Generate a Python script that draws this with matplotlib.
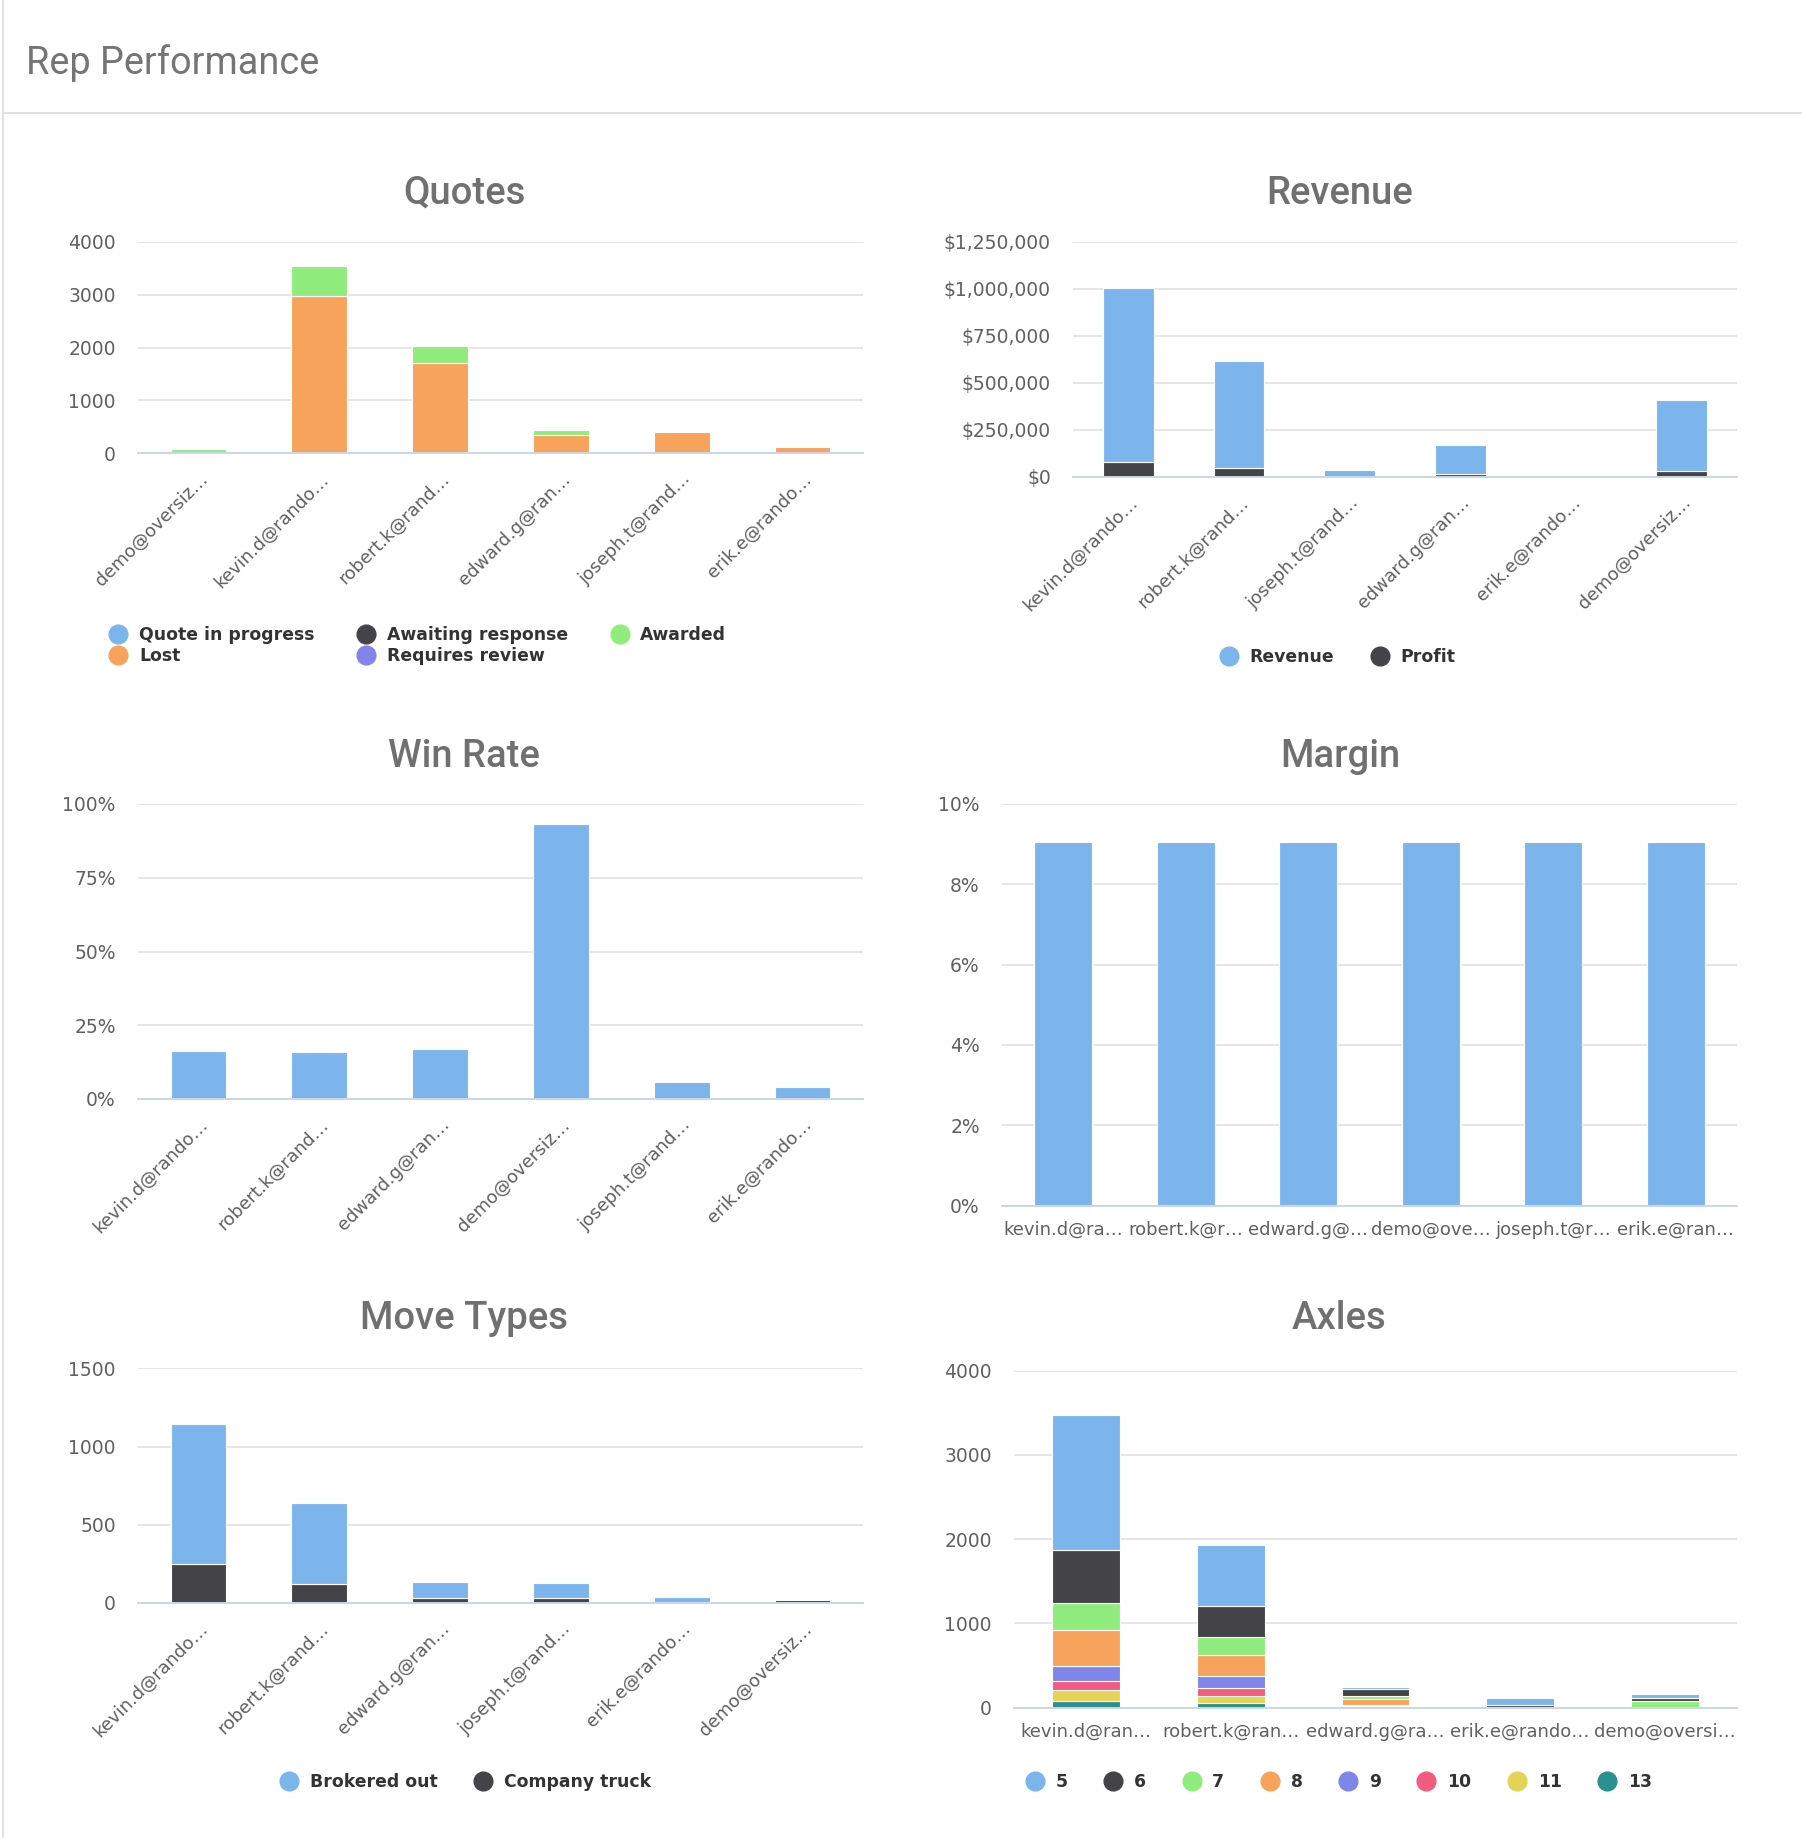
import matplotlib
matplotlib.use("Agg")
import matplotlib.pyplot as plt
from matplotlib.lines import Line2D
import numpy as np

W, H = 1802, 1838

# colours (highcharts palette)
BLUE, DARK, GREEN, ORANGE = '#7cb5ec', '#434348', '#90ed7d', '#f7a35c'
PURPLE, RED, YELLOW, TEAL = '#8085e9', '#f15c80', '#e4d354', '#2b908f'

# ---------------- data ----------------
quotes_reps = ['demo@oversiz…', 'kevin.d@rando…', 'robert.k@rand…',
               'edward.g@ran…', 'joseph.t@rand…', 'erik.e@rando…']
quotes_in_progress = [0, 0, 0, 0, 0, 0]
quotes_awaiting = [0, 0, 0, 0, 0, 0]
quotes_awarded = [80, 560, 320, 95, 0, 0]
quotes_lost = [0, 2980, 1700, 346, 408, 110]
quotes_review = [0, 0, 0, 0, 0, 0]

revenue_reps = ['kevin.d@rando…', 'robert.k@rand…', 'joseph.t@rand…',
                'edward.g@ran…', 'erik.e@rando…', 'demo@oversiz…']
revenue = [922000, 567000, 35600, 156000, 0, 376000]
profit = [80000, 48000, 0, 12700, 0, 30000]

winrate_reps = ['kevin.d@rando…', 'robert.k@rand…', 'edward.g@ran…',
                'demo@oversiz…', 'joseph.t@rand…', 'erik.e@rando…']
winrate = [16.3, 15.8, 16.9, 93.2, 5.8, 4.2]

margin_reps = ['kevin.d@ra…', 'robert.k@r…', 'edward.g@…',
               'demo@ove…', 'joseph.t@r…', 'erik.e@ran…']
margin = [9.05, 9.05, 9.05, 9.05, 9.05, 9.05]

move_reps = ['kevin.d@rando…', 'robert.k@rand…', 'edward.g@ran…',
             'joseph.t@rand…', 'erik.e@rando…', 'demo@oversiz…']
brokered_out = [897, 522, 106, 96, 31, 0]
company_truck = [249, 119, 30, 30, 5, 18]

axles_reps = ['kevin.d@ran…', 'robert.k@ran…', 'edward.g@ra…',
              'erik.e@rando…', 'demo@oversi…']
axle_names = ['5', '6', '7', '8', '9', '10', '11', '13']
axles_5 = [1601, 724, 30, 85, 48]
axles_6 = [633, 368, 85, 28, 28]
axles_7 = [320, 225, 35, 0, 82]
axles_8 = [431, 246, 70, 8, 0]
axles_9 = [174, 146, 5, 0, 0]
axles_10 = [107, 91, 5, 0, 0]
axles_11 = [134, 78, 15, 0, 0]
axles_13 = [75, 59, 5, 0, 0]

# ---------------- figure ----------------
plt.rcParams['font.family'] = ['DejaVu Sans']
fig = plt.figure(figsize=(W / 100, H / 100), dpi=100)
fig.patch.set_facecolor('white')

# card border + header
fig.add_artist(Line2D([3 / W, 1], [1 - 113 / H, 1 - 113 / H], color='#e0e0e0', lw=1.4))
fig.add_artist(Line2D([2.5 / W, 2.5 / W], [0, 1], color='#e0e0e0', lw=1.4))
fig.text(26 / W, 1 - 74 / H, 'Rep Performance', family='Roboto', fontsize=27.3,
         color='#757575', va='baseline', ha='left')


def make_ax(x0, x1, y0, y1):
    return fig.add_axes([x0 / W, 1 - y1 / H, (x1 - x0) / W, (y1 - y0) / H])


def style(ax, n, ymax, yticks, ylabels, xlabels, rotate=True):
    ax.set_xlim(-0.5, n - 0.5)
    ax.set_ylim(0, ymax)
    ax.set_yticks(yticks)
    ax.set_yticklabels(ylabels)
    ax.set_xticks(np.arange(n))
    if rotate:
        ax.set_xticklabels(xlabels, rotation=45, ha='right', rotation_mode='anchor')
        ax.tick_params(axis='x', pad=12)
    else:
        ax.set_xticklabels(xlabels)
        ax.tick_params(axis='x', pad=11)
    ax.grid(axis='y', color='#e6e6e6', lw=1.4)
    ax.set_axisbelow(True)
    for s in ['top', 'left', 'right']:
        ax.spines[s].set_visible(False)
    ax.spines['bottom'].set_color('#ccd6eb')
    ax.spines['bottom'].set_linewidth(1.4)
    ax.tick_params(length=0, labelsize=13, labelcolor='#606060')
    ax.tick_params(axis='y', pad=16, labelsize=13.5)


def title(cx, by, txt):
    fig.text(cx / W, 1 - by / H, txt, family='Roboto', fontsize=27.5, fontweight='medium',
             color='#707070', ha='center', va='baseline')


def legend(cx, cy, items, ncol, colsp=2.15):
    handles = [Line2D([], [], marker='o', ls='', color=c, markersize=13.5) for _, c in items]
    fig.legend(handles, [t for t, _ in items], loc='center',
               bbox_to_anchor=(cx / W, 1 - cy / H), ncol=ncol, frameon=False,
               prop={'family': 'DejaVu Sans', 'weight': 'bold', 'size': 12.4},
               labelcolor='#333333', handlelength=1.0, handletextpad=0.7,
               columnspacing=colsp, borderpad=0, labelspacing=0.15)


bw = 0.46
ek = dict(edgecolor='white', linewidth=0.8)

# Quotes
ax = make_ax(138, 863, 241.7, 453.3)
x = np.arange(len(quotes_reps))
bottom = np.zeros(len(x))
for vals, c in [(quotes_review, PURPLE), (quotes_lost, ORANGE), (quotes_awarded, GREEN),
                (quotes_awaiting, DARK), (quotes_in_progress, BLUE)]:
    v = np.array(vals, float)
    ax.bar(x[v > 0], v[v > 0], bw, bottom=bottom[v > 0], color=c, **ek)
    bottom += v
style(ax, len(x), 4000, range(0, 4001, 1000), [str(v) for v in range(0, 4001, 1000)], quotes_reps)
title(464, 204, 'Quotes')
legend(418, 645.5, [('Quote in progress', BLUE), ('Lost', ORANGE),
                    ('Awaiting response', DARK), ('Requires review', PURPLE),
                    ('Awarded', GREEN)], 3, colsp=2.5)

# Revenue
ax = make_ax(1073, 1737, 241.7, 476.7)
x = np.arange(len(revenue_reps))
bottom = np.zeros(len(x))
for vals, c in [(profit, DARK), (revenue, BLUE)]:
    v = np.array(vals, float)
    ax.bar(x[v > 0], v[v > 0], bw, bottom=bottom[v > 0], color=c, **ek)
    bottom += v
rt = list(range(0, 1250001, 250000))
style(ax, len(x), 1250000, rt, ['${:,}'.format(v) for v in rt], revenue_reps)
title(1340, 204, 'Revenue')
legend(1338, 657, [('Revenue', BLUE), ('Profit', DARK)], 2)

# Win Rate
ax = make_ax(138, 863, 804, 1099)
x = np.arange(len(winrate_reps))
ax.bar(x, winrate, bw, color=BLUE, **ek)
style(ax, len(x), 100, range(0, 101, 25), ['{}%'.format(v) for v in range(0, 101, 25)], winrate_reps)
title(464, 767, 'Win Rate')

# Margin
ax = make_ax(1002, 1737, 804, 1205.5)
x = np.arange(len(margin_reps))
ax.bar(x, margin, 0.47, color=BLUE, **ek)
style(ax, len(x), 10, range(0, 11, 2), ['{}%'.format(v) for v in range(0, 11, 2)],
      margin_reps, rotate=False)
title(1340, 767, 'Margin')

# Move Types
ax = make_ax(138, 863, 1368.3, 1603)
x = np.arange(len(move_reps))
bottom = np.zeros(len(x))
for vals, c in [(company_truck, DARK), (brokered_out, BLUE)]:
    v = np.array(vals, float)
    ax.bar(x[v > 0], v[v > 0], bw, bottom=bottom[v > 0], color=c, **ek)
    bottom += v
style(ax, len(x), 1500, range(0, 1501, 500), [str(v) for v in range(0, 1501, 500)], move_reps)
title(464, 1329, 'Move Types')
legend(466, 1782, [('Brokered out', BLUE), ('Company truck', DARK)], 2)

# Axles
ax = make_ax(1014, 1737, 1370.7, 1707.7)
x = np.arange(len(axles_reps))
axle_series = [axles_5, axles_6, axles_7, axles_8, axles_9, axles_10, axles_11, axles_13]
axle_colors = [BLUE, DARK, GREEN, ORANGE, PURPLE, RED, YELLOW, TEAL]
bottom = np.zeros(len(x))
for vals, c in list(zip(axle_series, axle_colors))[::-1]:
    v = np.array(vals, float)
    ax.bar(x[v > 0], v[v > 0], 0.47, bottom=bottom[v > 0], color=c, **ek)
    bottom += v
style(ax, len(x), 4000, range(0, 4001, 1000), [str(v) for v in range(0, 4001, 1000)],
      axles_reps, rotate=False)
title(1339, 1329, 'Axles')
legend(1339, 1782, list(zip(axle_names, axle_colors)), 8)

fig.savefig('out.png', dpi=100)
